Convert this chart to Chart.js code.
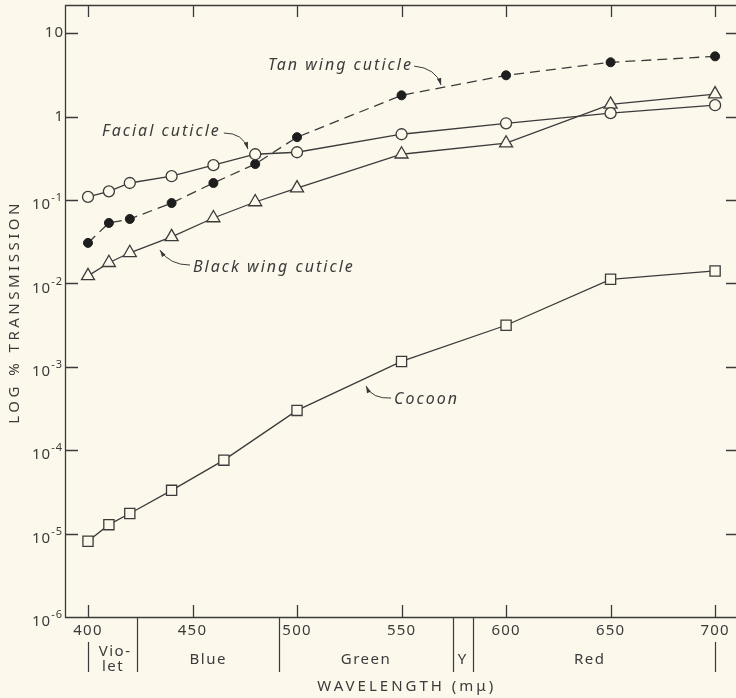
<!DOCTYPE html>
<html>
<head>
<meta charset="utf-8">
<script src="https://cdn.jsdelivr.net/npm/chart.js@4.4.1/dist/chart.umd.min.js"></script>
<style>
  html, body { margin: 0; padding: 0; background: #fcf8ec; overflow: hidden; }
  canvas { display: block; }
</style>
</head>
<body>
<canvas id="chart" width="736" height="698"></canvas>
<script>
// wavelengths (m\u03bc) and % transmission
const wavelengths = [400, 410, 420, 440, 460, 480, 500, 550, 600, 650, 700];
const cocoonWavelengths = [400, 410, 420, 440, 465, 500, 550, 600, 650, 700];

const facialCuticle = [0.109, 0.127, 0.160, 0.193, 0.262, 0.354, 0.374, 0.615, 0.832, 1.10, 1.37];
const tanWingCuticle = [0.0306, 0.0531, 0.0592, 0.092, 0.160, 0.270, 0.567, 1.80, 3.13, 4.48, 5.28];
const blackWingCuticle = [0.0123, 0.0177, 0.0233, 0.0362, 0.0609, 0.0947, 0.139, 0.354, 0.48, 1.40, 1.86];
const cocoon = [8.1e-6, 1.28e-5, 1.74e-5, 3.3e-5, 7.6e-5, 3.0e-4, 1.16e-3, 3.15e-3, 1.12e-2, 1.41e-2];

const xTickValues = [400, 450, 500, 550, 600, 650, 700];
const yTickValues = [10, 1, 1e-1, 1e-2, 1e-3, 1e-4, 1e-5, 1e-6];
const yTickLabels = ['10', '1', '10^-1', '10^-2', '10^-3', '10^-4', '10^-5', '10^-6'];

// spectrum bands under the axis
const bandEdges = [400, 423.5, 491.5, 574.5, 584, 700];
const bandNames = [['Vio-', 'let'], ['Blue'], ['Green'], ['Y'], ['Red']];
const bandLabelAt = [412, 457.5, 533, 579.3, 640];

// curve labels, in data units: text start, leader start / bend / arrow tip
const labelTexts = ['Facial cuticle', 'Tan wing cuticle', 'Black wing cuticle', 'Cocoon'];
const labelAt = [[406.7, 0.672], [486.1, 4.16], [450.2, 0.0157], [546.4, 4.11e-4]];
const leaders = [
  [[465.0, 0.636], [474.2, 0.636], [476.5, 0.409]],
  [[556.0, 4.04], [566.5, 3.82], [568.9, 2.39]],
  [[448.8, 0.0166], [439.2, 0.0166], [434.4, 0.0251]],
  [[545.0, 4.22e-4], [535.9, 4.11e-4], [533.0, 5.88e-4]]
];

const ink = '#3b3b3b';
const paper = '#fcf8ec';
const font = '"Noto Sans", "DejaVu Sans", sans-serif';

const pts = (xs, ys) => xs.map((x, i) => ({ x, y: ys[i] }));

const paperAxes = {
  id: 'paperAxes',
  beforeDraw(chart) {
    const ctx = chart.ctx;
    ctx.save();
    ctx.fillStyle = paper;
    ctx.fillRect(0, 0, chart.width, chart.height);
    ctx.restore();
  },
  beforeDatasetsDraw(chart) {
    const { ctx, chartArea: a, scales: { x, y } } = chart;
    ctx.save();
    ctx.strokeStyle = ink;
    ctx.lineWidth = 1.3;
    ctx.beginPath();
    ctx.moveTo(a.right, a.top + 0.5);
    ctx.lineTo(a.left + 0.5, a.top + 0.5);
    ctx.lineTo(a.left + 0.5, a.bottom + 0.5);
    ctx.lineTo(a.right, a.bottom + 0.5);
    // inward ticks
    xTickValues.forEach(v => {
      const px = Math.round(x.getPixelForValue(v)) + 0.5;
      ctx.moveTo(px, a.bottom); ctx.lineTo(px, a.bottom - 12);
      ctx.moveTo(px, a.top); ctx.lineTo(px, a.top + 12);
    });
    yTickValues.forEach(v => {
      const py = Math.round(y.getPixelForValue(v)) + 0.5;
      if (py > a.bottom - 2) return;
      ctx.moveTo(a.left, py); ctx.lineTo(a.left + 13, py);
      ctx.moveTo(a.right, py); ctx.lineTo(a.right - 10, py);
    });
    ctx.stroke();
    ctx.restore();
  },
  afterDraw(chart) {
    const { ctx, chartArea: a, scales: { x, y } } = chart;
    ctx.save();
    ctx.fillStyle = ink;
    ctx.strokeStyle = ink;
    ctx.textBaseline = 'middle';

    // x tick labels
    ctx.font = '15px ' + font;
    ctx.letterSpacing = '1.2px';
    ctx.textAlign = 'center';
    xTickValues.forEach(v => ctx.fillText(String(v), x.getPixelForValue(v), a.bottom + 14));

    // y tick labels with superscript powers
    ctx.letterSpacing = '1px';
    yTickLabels.forEach((lab, i) => {
      const py = y.getPixelForValue(yTickValues[i]);
      const [base, exp] = lab.split('^');
      ctx.textAlign = 'left';
      ctx.font = '15px ' + font;
      const wb = ctx.measureText(base).width;
      let we = 0;
      if (exp) { ctx.font = '11px ' + font; we = ctx.measureText(exp).width + 1; }
      const x0 = 64 - wb - we;
      ctx.font = '15px ' + font;
      ctx.fillText(base, x0, exp ? py + 5 : py);
      if (exp) { ctx.font = '11px ' + font; ctx.fillText(exp, x0 + wb, py - 2); }
    });

    // spectrum band separators and names
    ctx.lineWidth = 1.2;
    ctx.beginPath();
    bandEdges.forEach((v, i) => {
      const px = Math.round(x.getPixelForValue(v)) + 0.5;
      const outer = i === 0 || i === bandEdges.length - 1;
      ctx.moveTo(px, outer ? a.bottom + 25 : a.bottom);
      ctx.lineTo(px, a.bottom + 55);
    });
    ctx.stroke();
    ctx.textAlign = 'center';
    ctx.font = '15px ' + font;
    ctx.letterSpacing = '1.5px';
    bandNames.forEach((lines, i) => {
      const cx = x.getPixelForValue(bandLabelAt[i]);
      if (lines.length === 2) {
        ctx.fillText(lines[0], cx + 2, a.bottom + 35);
        ctx.fillText(lines[1], cx, a.bottom + 50);
      } else {
        ctx.fillText(lines[0], cx, a.bottom + 43);
      }
    });

    // axis titles
    ctx.letterSpacing = '3px';
    ctx.font = '15px ' + font;
    ctx.fillText('WAVELENGTH (m\u03bc)', x.getPixelForValue(552.5), a.bottom + 70);
    ctx.letterSpacing = '3.5px';
    ctx.save();
    ctx.translate(15, 312);
    ctx.rotate(-Math.PI / 2);
    ctx.fillText('LOG % TRANSMISSION', 0, 0);
    ctx.restore();

    // curve labels with curved leaders
    ctx.font = 'italic 16px ' + font;
    ctx.letterSpacing = '2px';
    ctx.textAlign = 'left';
    labelTexts.forEach((t, i) => {
      ctx.fillText(t, x.getPixelForValue(labelAt[i][0]), y.getPixelForValue(labelAt[i][1]));
      const p = leaders[i].map(([lx, ly]) => [x.getPixelForValue(lx), y.getPixelForValue(ly)]);
      ctx.lineWidth = 1;
      ctx.beginPath();
      ctx.moveTo(p[0][0], p[0][1]);
      ctx.quadraticCurveTo(p[1][0], p[1][1], p[2][0], p[2][1]);
      ctx.stroke();
      const ang = Math.atan2(p[2][1] - p[1][1], p[2][0] - p[1][0]);
      ctx.beginPath();
      ctx.moveTo(p[2][0], p[2][1]);
      ctx.lineTo(p[2][0] - 7 * Math.cos(ang) + 2.2 * Math.sin(ang), p[2][1] - 7 * Math.sin(ang) - 2.2 * Math.cos(ang));
      ctx.lineTo(p[2][0] - 7 * Math.cos(ang) - 2.2 * Math.sin(ang), p[2][1] - 7 * Math.sin(ang) + 2.2 * Math.cos(ang));
      ctx.closePath();
      ctx.fill();
    });
    ctx.restore();
  }
};

new Chart(document.getElementById('chart'), {
  type: 'line',
  data: {
    datasets: [
      {
        label: 'Facial cuticle',
        data: pts(wavelengths, facialCuticle),
        borderColor: ink, borderWidth: 1.3,
        pointStyle: 'circle', pointRadius: 5.5,
        pointBackgroundColor: paper, pointBorderColor: ink, pointBorderWidth: 1.3
      },
      {
        label: 'Tan wing cuticle',
        data: pts(wavelengths, tanWingCuticle),
        borderColor: ink, borderWidth: 1.3, borderDash: [10, 6],
        pointStyle: 'circle', pointRadius: 4.5,
        pointBackgroundColor: '#1e1e1e', pointBorderColor: '#1e1e1e', pointBorderWidth: 1
      },
      {
        label: 'Black wing cuticle',
        data: pts(wavelengths, blackWingCuticle),
        borderColor: ink, borderWidth: 1.3,
        pointStyle: 'triangle', pointRadius: 7.5,
        pointBackgroundColor: paper, pointBorderColor: ink, pointBorderWidth: 1.3
      },
      {
        label: 'Cocoon',
        data: pts(cocoonWavelengths, cocoon),
        borderColor: ink, borderWidth: 1.3,
        pointStyle: 'rect', pointRadius: 7.2,
        pointBackgroundColor: paper, pointBorderColor: ink, pointBorderWidth: 1.3
      }
    ]
  },
  options: {
    responsive: false,
    animation: false,
    events: [],
    layout: { autoPadding: false, padding: { left: 65, top: 5, right: 0, bottom: 81 } },
    elements: { line: { tension: 0 } },
    scales: {
      x: { type: 'linear', min: 389, max: 710, display: false },
      y: { type: 'logarithmic', min: 1e-6, max: 21.8, display: false }
    },
    plugins: {
      legend: { display: false },
      tooltip: { enabled: false }
    }
  },
  plugins: [paperAxes]
});
</script>
</body>
</html>
